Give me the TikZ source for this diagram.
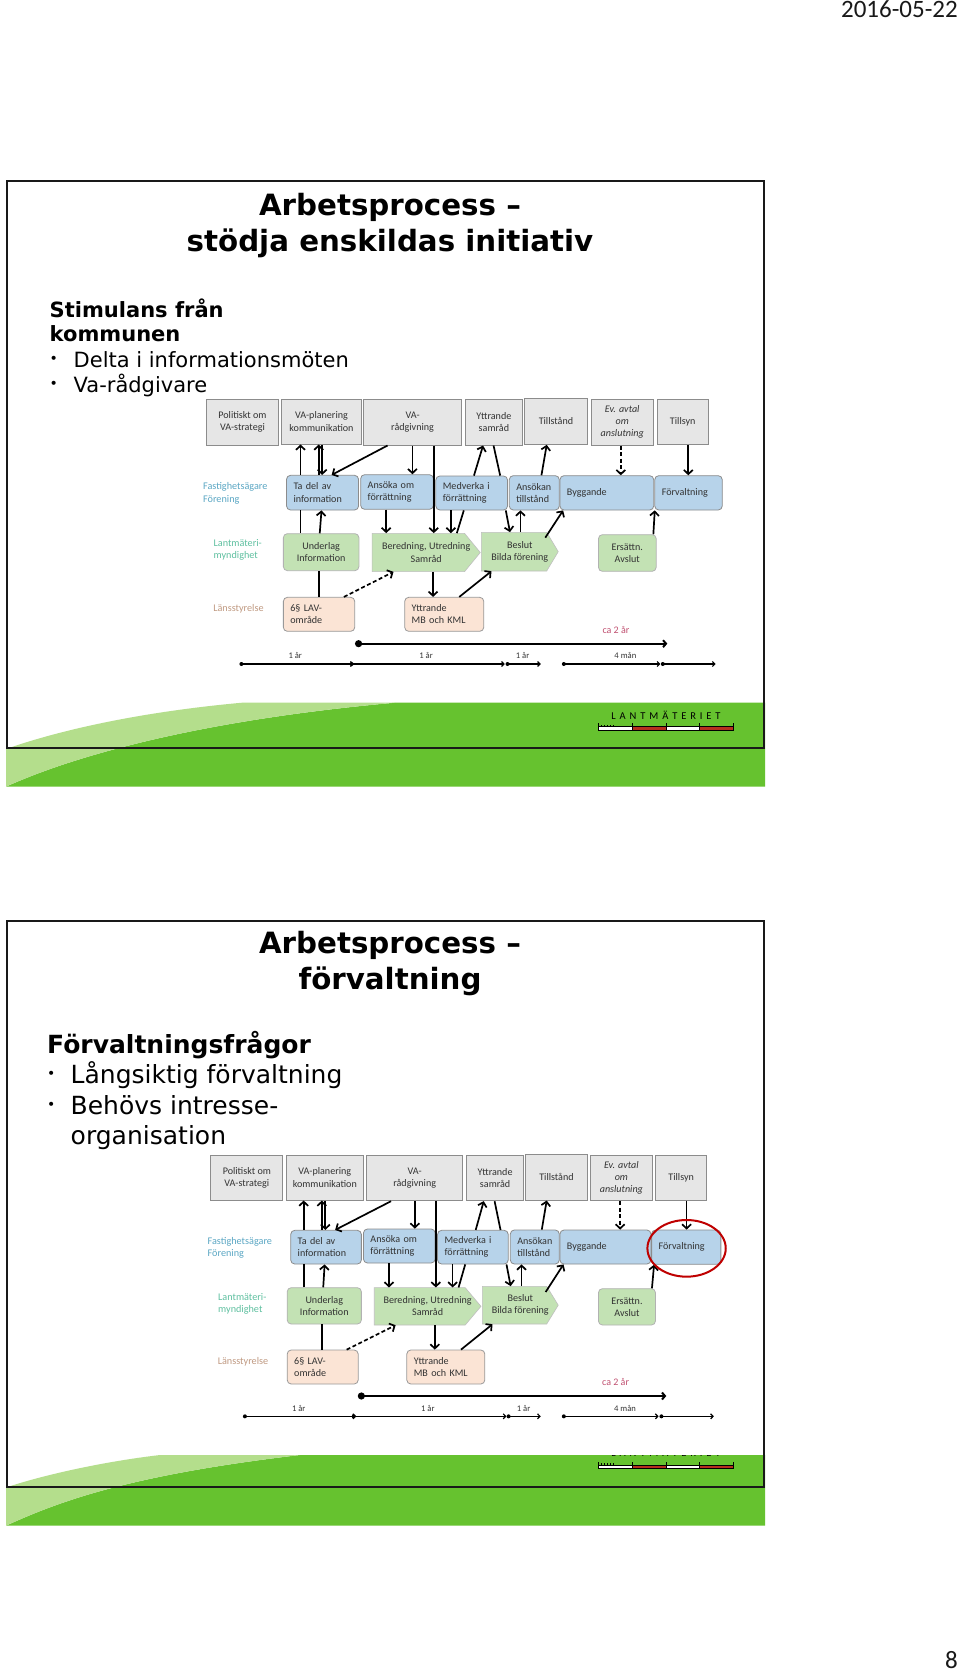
\documentclass[tikz,border=0pt]{standalone}
\usepackage{fontspec}
\setmainfont{Carlito}
\newfontfamily\dv{DejaVu Sans}
\usetikzlibrary{arrows.meta,calc}
\definecolor{grn}{HTML}{66C22F}
\definecolor{lgrn}{HTML}{B4DE8C}
\definecolor{gbox}{HTML}{E6E6E6}
\definecolor{bbox}{HTML}{B7D3EA}
\definecolor{gnbox}{HTML}{C3E2B4}
\definecolor{pbox}{HTML}{FBE4D5}
\definecolor{lblb}{HTML}{5BA7C4}
\definecolor{lblg}{HTML}{5FC0A0}
\definecolor{lblp}{HTML}{C09A82}
\definecolor{lblr}{HTML}{C05070}
\definecolor{logored}{HTML}{B5301F}
\newcommand\lmtext{L\hspace{3.9pt}A\hspace{3.9pt}N\hspace{3.9pt}T\hspace{3.9pt}M\hspace{3.9pt}Ä\hspace{3.9pt}T\hspace{3.9pt}E\hspace{3.9pt}R\hspace{3.9pt}I\hspace{3.9pt}E\hspace{3.9pt}T}
\tikzset{
 dg/.style={font=\fontsize{10.1}{12.3}\selectfont,text=black!80,inner sep=0pt,align=center},
 greybox/.style={dg,draw=black!45,line width=1pt,fill=gbox,rectangle},
 bluebox/.style={dg,draw=black!45,line width=.8pt,fill=bbox,rounded corners=4pt,align=left},
 greenbox/.style={dg,draw=black!30,line width=.8pt,fill=gnbox,rounded corners=4pt},
 peachbox/.style={dg,draw=black!40,line width=.8pt,fill=pbox,rounded corners=4pt,align=left},
 plate/.style={dg},
 arr/.style={line width=1.7pt,-{Straight Barb[length=4.2pt,width=9pt]}},
 lin/.style={line width=1.7pt},
 dsh/.style={line width=1.7pt,dash pattern=on 4pt off 2.5pt,-{Straight Barb[length=4.2pt,width=9pt]}},
 lbl/.style={font=\fontsize{10.2}{12.4}\selectfont,inner sep=0pt,anchor=west,align=left},
 tim/.style={font=\fontsize{8.6}{9}\selectfont,inner sep=0pt,text=black!80},
 tline/.style={line width=1.2pt,-{Straight Barb[length=2.4pt,width=5pt]}},
 ttl/.style={font=\dv\bfseries\fontsize{29.3}{33}\selectfont,inner sep=0pt},
 bodyb/.style={font=\dv\bfseries\fontsize{21}{24}\selectfont,inner sep=0pt,anchor=west},
 bodyt/.style={font=\dv\fontsize{21}{24}\selectfont,inner sep=0pt,anchor=west},
 bodybb/.style={font=\dv\bfseries\fontsize{25}{28}\selectfont,inner sep=0pt,anchor=west},
 bodytb/.style={font=\dv\fontsize{25}{28}\selectfont,inner sep=0pt,anchor=west},
 bul/.style={font=\dv\fontsize{14}{16}\selectfont,inner sep=0pt,anchor=west},
 logot/.style={font=\fontsize{10.5}{12}\selectfont,inner sep=0pt},
 frm/.style={draw=black!90,line width=2pt},
}
\newcommand\bx[7]{\pgfmathsetmacro\bw{(#5-#3)*.3497}\pgfmathsetmacro\bh{(#6-#4)/3}%
 \node[#1,minimum width=\bw pt,minimum height=\bh pt] (#2) at ({(#3+#5)/2},{(#4+#6)/2}) {#7};}
\newcommand\bl[7]{\pgfmathsetmacro\bw{(#5-#3)*.3497}\pgfmathsetmacro\bh{(#6-#4)/3}\pgfmathsetmacro\tw{\bw-14}%
 \node[#1,text width=\tw pt,minimum width=\bw pt,minimum height=\bh pt] (#2) at ({(#3+#5)/2},{(#4+#6)/2}) {#7};}
% plate outline: x1 y1 xs x2 y2
\newcommand\plt[5]{%
 \fill[gnbox,draw=black!25,line width=.6pt] (#1,#2) -- (#3,#2) -- (#4,{(#2+#5)/2}) -- (#3,#5) -- (#1,#5) -- cycle;}
\newcommand\logo[1]{%
 \fill[white,draw=black,line width=.4pt] (598.5,#1+3.5) rectangle (632,#1+7);
 \fill[logored,draw=black,line width=.4pt] (632,#1+3.5) rectangle (666,#1+7);
 \fill[white,draw=black,line width=.4pt] (666,#1+3.5) rectangle (699,#1+7);
 \fill[logored,draw=black,line width=.4pt] (699,#1+3.5) rectangle (733,#1+7);
 \foreach \q in {598.5,601.5,...,616}{\draw[line width=.3pt] (\q,#1+3.5) -- (\q,#1+1.5);}
 \foreach \q in {598.5,632,666,699,733}{\draw[line width=.4pt] (\q,#1+3.5) -- (\q,#1);}
}
\begin{document}
\begin{tikzpicture}[x=1pt,y=-1pt]
\useasboundingbox (0,0) rectangle (960,1672);
\fill[white] (0,0) rectangle (960,1672);
\node[font=\fontsize{25}{27}\selectfont,inner sep=0pt,anchor=east,text=black!90] (date) at (958,9) {2016-05-22};
\node[font=\fontsize{25}{27}\selectfont,inner sep=0pt,anchor=east,text=black!90] (pg) at (958,1660) {8};

%%%% slide 1
\fill[grn] (6,786.7) .. controls (60,762) and (180,722) .. (395,702.7) -- (765,702.7) -- (765,786.7) -- cycle;
\fill[lgrn] (6,749) .. controls (60,730) and (140,712) .. (242,702.7) -- (395,702.7) .. controls (180,722) and (60,762) .. (6,786.7) -- cycle;
\draw[frm] (6.5,181) rectangle (763.5,748);
\node[ttl] (t1a) at (390,207) {Arbetsprocess –};
\node[ttl] (t1b) at (390,243) {stödja enskildas initiativ};
\node[bodyb] (s1a) at (49.5,308.5) {Stimulans från};
\node[bodyb] (s1b) at (49.5,334) {kommunen};
\node[bul] (s1c) at (49.5,359.5) {•};
\node[bodyt] (s1d) at (73.5,359.5) {Delta i informationsmöten};
\node[bul] (s1e) at (49.5,385) {•};
\node[bodyt] (s1f) at (73.5,385) {Va-rådgivare};
\node[logot] (lm1) at (666,715.5) {\lmtext};
\logo{723}

\begin{scope}[shift={(190,390)},x=.3497pt,y=-.33333pt]
\bx{greybox}{apol}{47}{27}{253}{165}{Politiskt om\\VA-strategi}
\bx{greybox}{avap}{263}{27}{489}{162}{VA-planering\\kommunikation}
\bx{greybox}{avar}{497}{27}{776}{165}{VA-\\rådgivning}
\bx{greybox}{aytt}{788}{27}{950}{165}{Yttrande\\samråd}
\bx{greybox}{atil}{957}{25}{1136}{163}{Tillstånd}
\bx{greybox}{aev}{1147}{27}{1325}{165}{\itshape Ev. avtal\\\itshape om\\\itshape anslutning}
\bx{greybox}{atsy}{1336}{27}{1482}{163}{Tillsyn}
\bl{bluebox}{atad}{276}{256}{482}{360}{Ta del av\\information}
\bl{bluebox}{aans}{488}{254}{696}{358}{Ansöka om\\förrättning}
\bl{bluebox}{amed}{703}{258}{908}{360}{Medverka i\\förrättning}
\bl{bluebox}{aatl}{913}{257}{1056}{360}{Ansökan\\tillstånd}
\bl{bluebox}{abyg}{1058}{257}{1326}{360}{Byggande}
\bl{bluebox}{afor}{1329}{257}{1522}{360}{Förvaltning}
\bx{greenbox}{aund}{267}{431}{483}{542}{Underlag\\Information}
\plt{521}{430}{785}{830}{545}
\bx{plate}{aber}{521}{430}{830}{545}{Beredning, Utredning\\Samråd}
\plt{833}{427}{1020}{1053}{543}
\bx{plate}{abes}{833}{427}{1053}{543}{Beslut\\Bilda förening}
\bx{greenbox}{aers}{1168}{434}{1333}{544}{Ersättn.\\Avslut}
\bl{peachbox}{alav}{267}{622}{471}{724}{6§ LAV-\\område}
\bl{peachbox}{aymb}{614}{622}{840}{724}{Yttrande\\MB och KML}
\node[lbl,text=lblb] (al1) at (37,310) {Fastighetsägare\\Förening};
\node[lbl,text=lblg] (al2) at (67,480) {Lantmäteri-\\myndighet};
\node[lbl,text=lblp] (al3) at (66,655) {Länsstyrelse};
\node[font=\fontsize{10}{11}\selectfont,inner sep=0pt,text=lblr] (aca) at (1218,720) {ca 2 år};
% connectors
\draw[lin] (aund.north -| 316,0) -- (atad.south -| 316,0);
\draw[arr] (atad.north -| 316,0) -- (avap.south -| 316,0);
\draw[arr] (atad.north -| 368,0) -- (avap.south -| 368,0);
\draw[arr] (avap.south -| 378,0) -- (atad.north -| 378,0);
\draw[arr] (aund.north -| 371,0) -- (atad.south -| 376,0);
\draw[lin] (alav.north -| 368,0) -- (aund.south -| 368,0);
\draw[arr] (avar.south -| 565,0) -- (atad.north -| 405,0);
\draw[arr] (avar.south -| 636,0) -- (aans.north -| 636,0);
\draw[arr] (avar.south -| 697,0) -- (aber.north -| 697,0);
\draw[arr] (aans.south -| 561,0) -- (aber.north -| 561,0);
\draw[arr] (amed.south -| 746,0) -- (aber.north -| 746,0);
\draw[lin] (amed.south -| 783,0) -- (aber.north -| 763,0);
\draw[arr] (amed.north -| 812,0) -- (aytt.south -| 838,0);
\draw[lin] (aytt.south -| 868,0) -- (amed.north -| 887,0);
\draw[arr] (amed.south -| 903,0) -- (abes.north -| 915,0);
\draw[arr] (abes.north -| 945,0) -- (aatl.south -| 945,0);
\draw[arr] (aatl.north -| 1005,0) -- (atil.south -| 1020,0);
\coordinate (am) at (1016,443);
\draw[arr] (am) -- (abyg.south -| 1067,0);
\draw[dsh] (aev.south -| 1232,0) -- (abyg.north -| 1232,0);
\draw[arr] (atsy.south -| 1425,0) -- (afor.north -| 1425,0);
\draw[arr] (aers.north -| 1325,0) -- (afor.south -| 1329,0);
\draw[dsh] (alav.north -| 440,0) -- (aber.south -| 582,0);
\draw[arr] (aber.south -| 695,0) -- (aymb.north -| 695,0);
\draw[arr] (aymb.north -| 770,0) -- (abes.south -| 862,0);
% time
\coordinate (ab1) at (482,761); \coordinate (ab2) at (1365,761);
\fill (ab1) circle (3.6pt);
\draw[line width=2pt,-{Straight Barb[length=3pt,width=7pt]}] (ab1) -- (ab2);
\foreach \xa/\xb in {147/468,462/900,908/1003,1069/1345,1352/1503}{
 \fill (\xa,822) circle (2pt);
 \draw[tline] (\xa,822) -- (\xb,822);
}
\node[tim] (at1) at (301,797) {1 år};
\node[tim] (at2) at (675,797) {1 år};
\node[tim] (at3) at (951,797) {1 år};
\node[tim] (at4) at (1245,797) {4 mån};
\end{scope}

%%%% slide 2
\fill[grn] (6,1525.7) .. controls (60,1501) and (130,1475) .. (300,1455) -- (765,1455) -- (765,1525.7) -- cycle;
\fill[lgrn] (6,1487.5) .. controls (40,1476) and (100,1462) .. (160,1455) -- (300,1455) .. controls (130,1475) and (60,1501) .. (6,1525.7) -- cycle;
\begin{scope}
\clip (590,1455) rectangle (750,1470);
\node[logot] (lm2) at (666,1452) {\lmtext};
\end{scope}
\logo{1461.5}
\draw[frm] (6.5,920.5) rectangle (763.5,1487);
\node[ttl] (t2a) at (390,945.5) {Arbetsprocess –};
\node[ttl] (t2b) at (390,981) {förvaltning};
\node[bodybb] (s2a) at (47,1045) {Förvaltningsfrågor};
\node[bul] (s2c) at (47,1075) {•};
\node[bodytb] (s2d) at (70.5,1075) {Långsiktig förvaltning};
\node[bul] (s2e) at (47,1105.5) {•};
\node[bodytb] (s2f) at (70.5,1105.5) {Behövs intresse-};
\node[bodytb] (s2g) at (70.5,1137.5) {organisation};

\begin{scope}[shift={(190,1145)},x=.3497pt,y=-.33333pt]
\bx{greybox}{bpol}{60}{30}{265}{167}{Politiskt om\\VA-strategi}
\bx{greybox}{bvap}{275}{30}{496}{165}{VA-planering\\kommunikation}
\bx{greybox}{bvar}{505}{30}{780}{167}{VA-\\rådgivning}
\bx{greybox}{bytt}{792}{30}{953}{167}{Yttrande\\samråd}
\bx{greybox}{btil}{959}{27}{1137}{165}{Tillstånd}
\bx{greybox}{bev}{1145}{30}{1322}{167}{\itshape Ev. avtal\\\itshape om\\\itshape anslutning}
\bx{greybox}{btsy}{1332}{30}{1477}{165}{Tillsyn}
\bl{bluebox}{btad}{288}{256}{490}{357}{Ta del av\\information}
\bl{bluebox}{bans}{496}{252}{701}{354}{Ansöka om\\förrättning}
\bl{bluebox}{bmed}{708}{256}{910}{357}{Medverka i\\förrättning}
\bl{bluebox}{batl}{916}{255}{1056}{357}{Ansökan\\tillstånd}
\bl{bluebox}{bbyg}{1058}{255}{1318}{357}{Byggande}
\bl{bluebox}{bfor}{1320}{255}{1518}{358}{Förvaltning}
\bx{greenbox}{bund}{278}{428}{490}{537}{Underlag\\Information}
\plt{527}{428}{787}{832}{540}
\bx{plate}{bber}{527}{428}{832}{540}{Beredning, Utredning\\Samråd}
\plt{836}{424}{1020}{1053}{537}
\bx{plate}{bbes}{836}{424}{1053}{537}{Beslut\\Bilda förening}
\bx{greenbox}{bers}{1168}{431}{1331}{540}{Ersättn.\\Avslut}
\bl{peachbox}{blav}{278}{615}{481}{717}{6§ LAV-\\område}
\bl{peachbox}{bymb}{620}{615}{843}{717}{Yttrande\\MB och KML}
\node[lbl,text=lblb] (bl1) at (50,309) {Fastighetsägare\\Förening};
\node[lbl,text=lblg] (bl2) at (80,477) {Lantmäteri-\\myndighet};
\node[lbl,text=lblp] (bl3) at (79,649) {Länsstyrelse};
\node[font=\fontsize{10}{11}\selectfont,inner sep=0pt,text=lblr] (bca) at (1217,712) {ca 2 år};
\draw[lin] (bund.north -| 325,0) -- (btad.south -| 325,0);
\draw[arr] (btad.north -| 325,0) -- (bvap.south -| 325,0);
\draw[arr] (btad.north -| 377,0) -- (bvap.south -| 377,0);
\draw[arr] (bvap.south -| 387,0) -- (btad.north -| 387,0);
\draw[arr] (bund.north -| 381,0) -- (btad.south -| 385,0);
\draw[lin] (blav.north -| 378,0) -- (bund.south -| 378,0);
\draw[arr] (bvar.south -| 575,0) -- (btad.north -| 415,0);
\draw[arr] (bvar.south -| 643,0) -- (bans.north -| 643,0);
\draw[arr] (bvar.south -| 703,0) -- (bber.north -| 703,0);
\draw[arr] (bans.south -| 569,0) -- (bber.north -| 569,0);
\draw[arr] (bmed.south -| 751,0) -- (bber.north -| 751,0);
\draw[lin] (bmed.south -| 787,0) -- (bber.north -| 768,0);
\draw[arr] (bmed.north -| 817,0) -- (bytt.south -| 840,0);
\draw[lin] (bytt.south -| 871,0) -- (bmed.north -| 888,0);
\draw[arr] (bmed.south -| 905,0) -- (bbes.north -| 917,0);
\draw[arr] (bbes.north -| 948,0) -- (batl.south -| 948,0);
\draw[arr] (batl.north -| 1006,0) -- (btil.south -| 1020,0);
\coordinate (bm) at (1017,441);
\draw[arr] (bm) -- (bbyg.south -| 1068,0);
\draw[dsh] (bev.south -| 1230,0) -- (bbyg.north -| 1230,0);
\draw[arr] (btsy.south -| 1420,0) -- (bfor.north -| 1420,0);
\draw[arr] (bers.north -| 1321,0) -- (bfor.south -| 1327,0);
\draw[dsh] (blav.north -| 448,0) -- (bber.south -| 588,0);
\draw[arr] (bber.south -| 700,0) -- (bymb.north -| 700,0);
\draw[arr] (bymb.north -| 775,0) -- (bbes.south -| 865,0);
\coordinate (bb1) at (490,753); \coordinate (bb2) at (1362,753);
\fill (bb1) circle (3.6pt);
\draw[line width=2pt,-{Straight Barb[length=3pt,width=7pt]}] (bb1) -- (bb2);
\foreach \xa/\xb in {157/475,468/905,911/1003,1069/1340,1348/1498}{
 \fill (\xa,814) circle (2pt);
 \draw[tline] (\xa,814) -- (\xb,814);
}
\node[tim] (bt1) at (311,791) {1 år};
\node[tim] (bt2) at (680,790) {1 år};
\node[tim] (bt3) at (954,790) {1 år};
\node[tim] (bt4) at (1244,789) {4 mån};
\draw[red!75!black,line width=2pt] (1420,310) ellipse [x radius=112,y radius=85];
\end{scope}
\end{tikzpicture}
\end{document}
